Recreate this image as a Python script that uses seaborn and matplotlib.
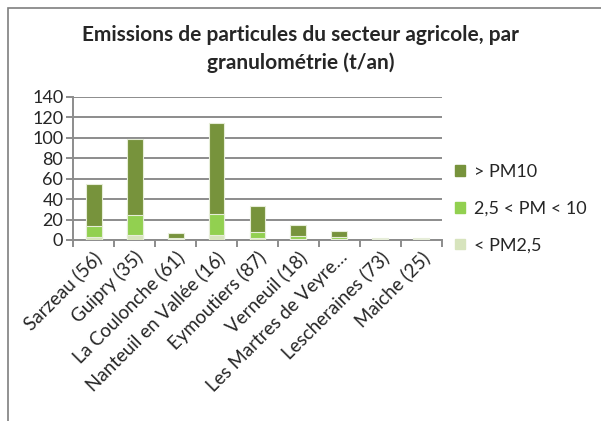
import pandas as pd
import numpy as np
import matplotlib.pyplot as plt
import matplotlib.patches as mpatches
import seaborn as sns

# ── Data (t/an) ───────────────────────────────────────────────
communes = ['Sarzeau (56)', 'Guipry (35)', 'La Coulonche (61)',
            'Nanteuil en Vallée (16)', 'Eymoutiers (87)', 'Verneuil (18)',
            'Les Martres de Veyre…', 'Lescheraines (73)', 'Maiche (25)']
pm25 = [3, 5, 0.5, 5, 1.5, 1, 0.5, 0.3, 0.3]
pm25_10 = [10.5, 19, 1, 20, 6, 3, 2.5, 0.8, 0.7]
pm10_plus = [41, 75, 5.5, 90, 26, 11, 6, 0.7, 0.6]
series_labels = ['> PM10', '2,5 < PM < 10', '< PM2,5']
colors = ['#77933C', '#92D050', '#D7E4BD']

df = pd.DataFrame({'commune': communes, 'pm25': pm25,
                   'pm25_10': pm25_10, 'pm10': pm10_plus})
df['c1'] = df['pm25']
df['c2'] = df['c1'] + df['pm25_10']
df['c3'] = df['c2'] + df['pm10']

sns.set_style('white')
plt.rcParams['font.family'] = ['Lato', 'DejaVu Sans']

fig = plt.figure(figsize=(6.01, 4.21), dpi=100)
ax = fig.add_axes([0.1215, 0.430, 0.6139, 0.3396])

# stacked bars: draw cumulative totals, biggest first
for col, c in zip(['c3', 'c2', 'c1'], colors):
    sns.barplot(data=df, x='commune', y=col, color=c, width=0.39,
                edgecolor='#E6EDD8', linewidth=0.8, saturation=1, ax=ax,
                zorder=3)

ax.set_ylim(0, 140)
ax.set_xlim(-0.5, len(communes) - 0.5)
ax.set_yticks(range(0, 141, 20))
ax.yaxis.grid(True, color='#8C8C8C', linewidth=1.4, zorder=0)
ax.set_axisbelow(True)
ax.set_xlabel('')
ax.set_ylabel('')

for s in ['top', 'right']:
    ax.spines[s].set_visible(False)
for s in ['left', 'bottom']:
    ax.spines[s].set_color('#8C8C8C')
    ax.spines[s].set_linewidth(1.4)

# x ticks at category boundaries
ax.set_xticks(np.arange(-0.5, len(communes), 1), minor=False)
ax.set_xticklabels([])
ax.tick_params(axis='x', length=5, width=1.4, color='#8C8C8C', direction='out', bottom=True)
ax.tick_params(axis='y', length=5, width=1.4, color='#8C8C8C', direction='out',
               left=True, labelsize=13, pad=2)
for i, name in enumerate(communes):
    ax.text(i - 0.02, -8, name, rotation=45, ha='right', va='top',
            rotation_mode='anchor', fontsize=13.5, transform=ax.transData)

fig.suptitle('Emissions de particules du secteur agricole, par\ngranulométrie (t/an)',
             x=0.5, y=0.94, fontsize=15, fontweight='bold', linespacing=1.45)

handles = [mpatches.Patch(color=c, label=l) for c, l in zip(colors, series_labels)]
fig.legend(handles=handles, loc='upper left', bbox_to_anchor=(0.745, 0.628),
           frameon=False, fontsize=13, handlelength=0.55, handleheight=0.55,
           handletextpad=0.5, labelspacing=1.15, borderaxespad=0)

# chart frame
fig.patches.append(mpatches.Rectangle((8 / 601, -0.02), 1.1, 1 - 8 / 421 + 0.02,
                                      transform=fig.transFigure, fill=False,
                                      edgecolor='#7F7F7F', linewidth=1.2))

fig.savefig('out.png', dpi=100)
